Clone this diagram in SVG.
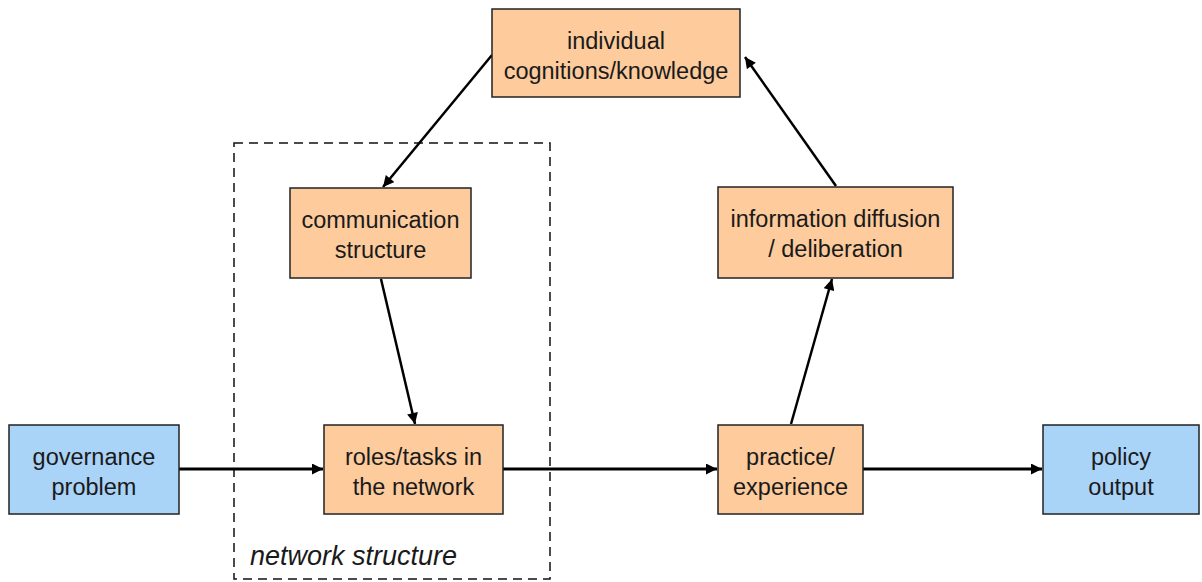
<svg xmlns="http://www.w3.org/2000/svg" width="1202" height="582" viewBox="0 0 1202 582">
<defs>
<style>
.o{fill:#FDCB9C;stroke:#222;stroke-width:1.5}
.b{fill:#AAD3F8;stroke:#222;stroke-width:1.5}
text{font-family:"Liberation Sans",Arial,sans-serif;font-size:23.5px;fill:#1a1a1a;text-anchor:middle}
.c{stroke:#000;stroke-width:2.5;fill:none;marker-end:url(#ah)}
.h{stroke-width:3}
</style>
<marker id="ah" viewBox="0 0 10 10" refX="10" refY="5" markerWidth="12" markerHeight="11" orient="auto" markerUnits="userSpaceOnUse">
<path d="M0,0 L10,5 L0,10 z" fill="#000"/>
</marker>
</defs>
<rect width="1202" height="582" fill="#fff"/>
<g id="network-structure">
<rect x="234" y="143" width="316" height="436" fill="none" stroke="#111" stroke-width="1.5" stroke-dasharray="9,6"/>
<text x="250" y="565" style="text-anchor:start;font-style:italic;font-size:27px">network structure</text>
</g>
<g id="connectors">
<line class="c" x1="492" y1="55" x2="383" y2="187"/>
<line class="c" x1="381" y1="279" x2="415" y2="424"/>
<line class="c h" x1="179" y1="469" x2="323" y2="469"/>
<line class="c h" x1="503" y1="469" x2="717" y2="469"/>
<line class="c h" x1="863" y1="469" x2="1042" y2="469"/>
<line class="c" x1="791" y1="424" x2="832" y2="279"/>
<line class="c" x1="836" y1="186" x2="745" y2="57"/>
</g>
<g id="cognitions">
<rect class="o" x="492" y="9" width="248" height="88"/>
<text x="616" y="49">individual</text>
<text x="616" y="79">cognitions/knowledge</text>
</g>
<g id="communication">
<rect class="o" x="290" y="188" width="181" height="90"/>
<text x="380.5" y="228">communication</text>
<text x="380.5" y="258">structure</text>
</g>
<g id="information">
<rect class="o" x="718" y="187" width="235" height="91"/>
<text x="835.5" y="227">information diffusion</text>
<text x="835.5" y="257">/ deliberation</text>
</g>
<g id="governance">
<rect class="b" x="9" y="425" width="170" height="89"/>
<text x="94" y="465">governance</text>
<text x="94" y="495">problem</text>
</g>
<g id="roles">
<rect class="o" x="324" y="425" width="179" height="89"/>
<text x="413.5" y="465">roles/tasks in</text>
<text x="413.5" y="495">the network</text>
</g>
<g id="practice">
<rect class="o" x="718" y="425" width="145" height="89"/>
<text x="790.5" y="465">practice/</text>
<text x="790.5" y="495">experience</text>
</g>
<g id="policy">
<rect class="b" x="1043" y="425" width="156" height="89"/>
<text x="1121" y="465">policy</text>
<text x="1121" y="495">output</text>
</g>
</svg>
